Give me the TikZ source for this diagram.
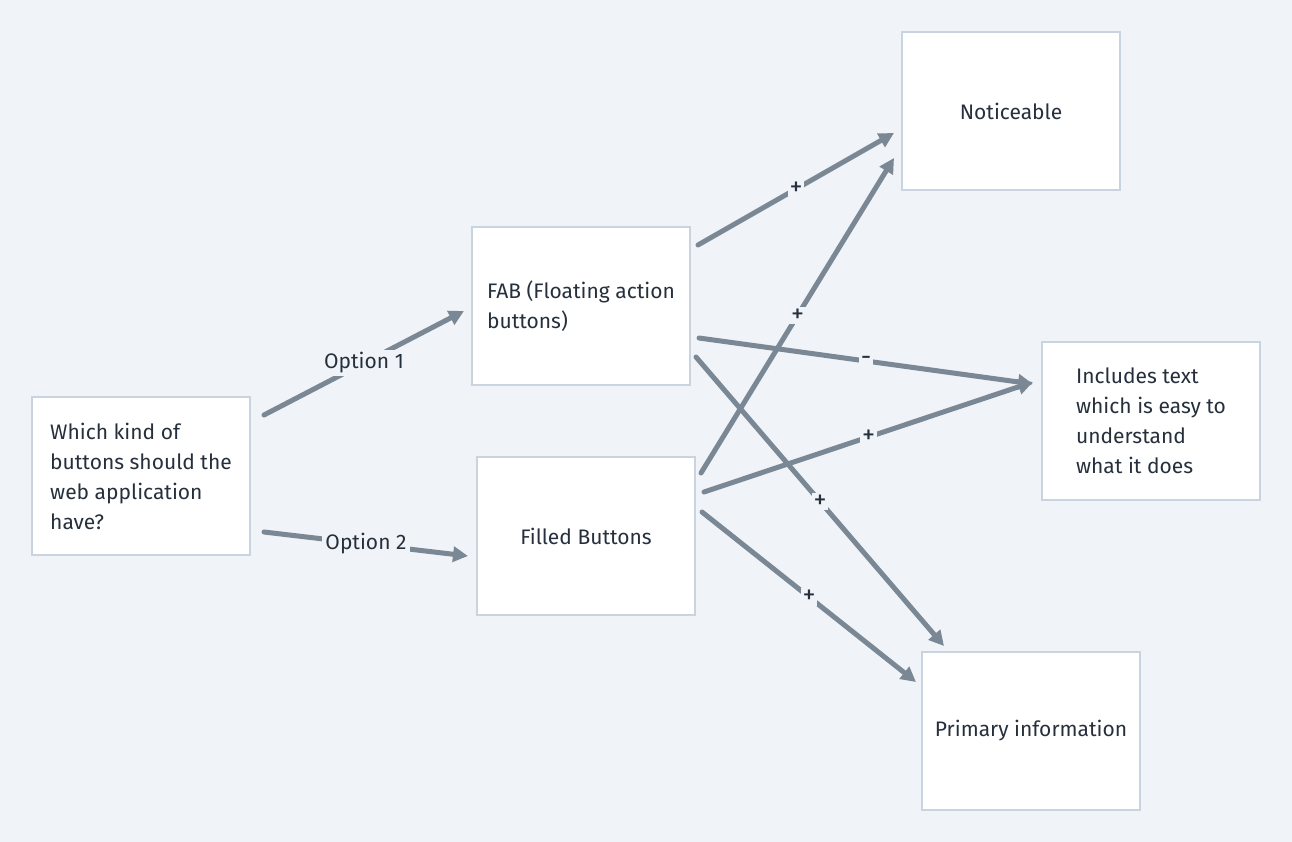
\documentclass[tikz,border=0pt]{standalone}
\usepackage{fontspec}
\setmainfont{Fira Sans}
\usetikzlibrary{arrows.meta}
\definecolor{btbg}{RGB}{240,243,247}
\definecolor{btborder}{RGB}{201,212,224}
\definecolor{btarrow}{RGB}{122,135,148}
\definecolor{bttext}{RGB}{38,48,60}
\tikzset{
  btbox/.style={draw=btborder, line width=2pt, fill=white, outer sep=0pt, minimum width=218pt, minimum height=158pt, align=left, text=bttext, font=\fontsize{21}{30}\selectfont},
  btarr/.style={-{Triangle[length=15pt,width=15pt]}, line width=5pt, line cap=round, draw=btarrow},
  btopt/.style={fill=btbg, text=bttext, inner sep=3pt, font=\fontsize{21}{24}\selectfont},
  btsign/.style={fill=btbg, text=bttext, inner sep=2pt, font=\fontsize{26}{26}\selectfont}
}

\begin{document}
\begin{tikzpicture}[x=1pt, y=-1pt]
  \fill[btbg] (0,0) rectangle (1292,842);
  \useasboundingbox (0,0) rectangle (1292,842);
  % boxes
  \node[btbox] (quest) at (141,476) {Which kind of\\buttons should the\\web application\\have?};
  \node[btbox] (fab) at (581,306) {FAB (Floating action\\buttons)};
  \node[btbox] (filled) at (586,536) {Filled Buttons};
  \node[btbox] (notice) at (1011,111) {Noticeable};
  \node[btbox] (incl) at (1151,421) {Includes text\\which is easy to\\understand\\what it does};
  \node[btbox] (prim) at (1031,731) {Primary information};
  % options
  \draw[btarr] ([shift={(14,-61)}]quest.east) -- node[btopt, midway] {Option 1} ([shift={(-8,5)}]fab.west);
  \draw[btarr] ([shift={(14,56)}]quest.east) -- node[btopt, midway] {Option 2} ([shift={(-9,20)}]filled.west);
  % effects of FAB
  \draw[btarr] ([shift={(8,-61)}]fab.east) -- node[btsign, midway] {+} ([shift={(-8,22)}]notice.west);
  \draw[btarr] ([shift={(9,32)}]fab.east) -- node[btsign, midway] {-} ([shift={(-9,-37)}]incl.west);
  \draw[btarr] ([shift={(6,51)}]fab.east) -- node[btsign, midway] {+} ([shift={(22,-6)}]prim.north west);
  % effects of filled buttons
  \draw[btarr] ([shift={(6,-63)}]filled.east) -- node[btsign, midway] {+} ([shift={(-8,47)}]notice.west);
  \draw[btarr] ([shift={(9,-44)}]filled.east) -- node[btsign, midway] {+} ([shift={(-9,-39)}]incl.west);
  \draw[btarr] ([shift={(7,-24)}]filled.east) -- node[btsign, midway] {+} ([shift={(-6,-49)}]prim.west);
\end{tikzpicture}
\end{document}
